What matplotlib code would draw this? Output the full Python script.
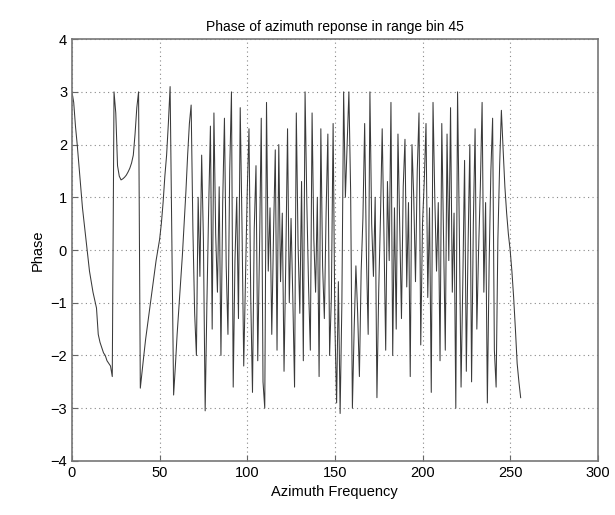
import matplotlib
matplotlib.use('Agg')
import matplotlib.pyplot as plt

# azimuth frequency bins 0..256 and phase values
phase_start = [
    3.0, 2.8, 2.35, 2.0, 1.6, 1.2, 0.8, 0.5, 0.2, -0.1,
    -0.4, -0.6, -0.8, -0.95, -1.1, -1.6, -1.75, -1.85, -1.95, -2.0,
    -2.1, -2.15, -2.2, -2.4, 3.0, 2.6, 1.6, 1.4, 1.33, 1.35,
    1.38, 1.42, 1.48, 1.55, 1.65, 1.8, 2.2, 2.7, 3.0, -2.62,
    -2.3, -2.0, -1.7, -1.45, -1.2, -0.95, -0.7, -0.45, -0.2, 0.0,
    0.2, 0.5, 0.9, 1.4, 1.8, 2.4, 3.1, 0.1, -2.75, -2.2,
    -1.6, -1.1, -0.6, -0.1, 0.5, 1.1, 1.8, 2.4,
]
phase_dense = [
    2.75, 0.4, -1.2, -2.0, 1.0, -0.5, 1.8, 0.2, -3.05, -1.0,
    0.8, 2.35, -1.5, 2.6, 0.3, -0.8, 1.2, -2.0, 0.9, 2.5,
    -0.3, -1.6, 1.5, 3.0, -2.6, -0.2, 1.0, -1.3, 2.7, 0.5,
    -2.2, -0.5, 1.1, 2.3, -0.9, -2.7, 0.4, 1.6, -2.1, 0.0,
    2.5, -2.5, -3.0, 2.8, -0.4, 0.8, -1.6, 0.3, 1.9, -1.9,
    2.0, -0.6, 0.7, -2.3, -0.2, 2.3, -1.0, 0.6, -0.9, -2.6,
    2.6, 0.1, -1.2, 1.3, -2.1, 3.0, 0.9, -0.7, -1.9, 2.6,
    0.2, -0.8, 1.0, -2.4, 2.3, -0.3, -1.3, 0.7, 2.2, -2.0,
    -0.9, 2.4, -1.4, -2.9, -0.6, -3.1, -1.0, 3.0, 1.0, 2.0,
    3.0, 1.1, -3.0, -1.5, -0.3, -1.2, -2.4, -0.4, 0.6, 2.4,
    -0.1, -1.6, 3.0, 0.5, -0.5, 1.0, -2.8, -0.8, 0.6, 2.3,
    0.3, -1.9, 1.3, -0.2, 2.8, -2.0, 0.8, -1.5, 2.2, 0.4,
    -1.3, 1.2, 2.1, -0.7, 0.9, -2.4, 2.0, 1.0, -0.6, 1.5,
    2.6, -1.8, 0.5, 1.3, 2.4, -0.9, 0.8, -2.7, 2.8, 1.0,
    -0.4, 0.9, -2.1, 2.4, 0.3, -1.9, 2.2, -0.2, 2.7, -0.8,
    0.7, -3.0, 3.0, 0.4, -2.6, -0.6, 1.7, -2.3, 0.1, 2.0,
    -2.5, 0.5, 2.3, -1.5, 0.0, 1.2, 2.8, -0.8, 0.9, -2.9,
    -0.3, 1.5, 2.5, -1.9, -2.6, 0.2, 1.6, 2.65,
]
phase_end = [1.9, 1.2, 0.7, 0.3, 0.0, -0.4, -0.9, -1.5, -2.15, -2.5, -2.8]

phase = phase_start + phase_dense + phase_end
freq = list(range(len(phase)))

xticks = [0, 50, 100, 150, 200, 250, 300]
yticks = [-4, -3, -2, -1, 0, 1, 2, 3, 4]

plt.rcParams['font.family'] = ['Liberation Sans', 'DejaVu Sans']

fig = plt.figure(figsize=(6.15, 5.15), dpi=100)
ax = fig.add_axes([0.117, 0.105, 0.855, 0.819])

ax.plot(freq, phase, color='#3a3a3a', lw=0.75)

ax.set_xlim(0, 300)
ax.set_ylim(-4, 4)
ax.set_xticks(xticks)
ax.set_yticks(yticks)
ax.grid(True, linestyle=(0, (1, 3)), color='#888888', lw=0.8)
ax.tick_params(direction='in', labelsize=10.5, length=4, color='#666666')
for s in ax.spines.values():
    s.set_color('#777777')
    s.set_linewidth(1.2)

ax.set_title('Phase of azimuth reponse in range bin 45', fontsize=10)
ax.set_xlabel('Azimuth Frequency', fontsize=10.5)
ax.set_ylabel('Phase', fontsize=10.5)

fig.savefig('out.png', dpi=100)
